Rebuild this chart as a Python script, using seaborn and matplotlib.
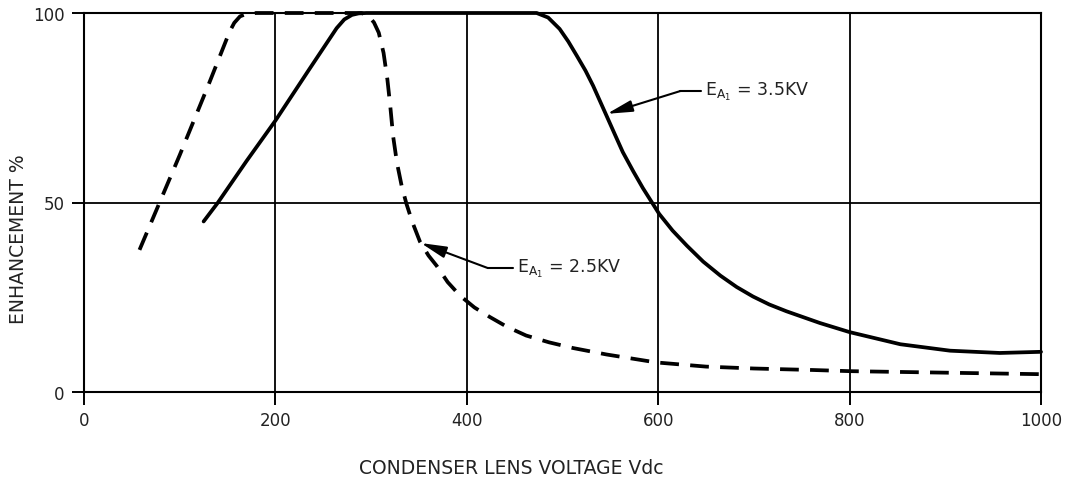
import matplotlib
matplotlib.use("Agg")
import matplotlib.pyplot as plt
import seaborn as sns
import pandas as pd

# ---- data ----
x_25kv = [58, 79, 100, 130, 152, 157, 163, 170, 180, 200, 250, 290, 297, 303, 308, 313,
          317, 320, 323, 327, 332, 337, 343, 351, 360, 368.5, 380, 393, 408, 424, 442,
          462, 486, 511, 546, 598, 650, 700, 762, 800, 900, 1000]
y_25kv = [37.5, 50, 62.5, 81, 95, 97.4, 99.1, 99.8, 100, 100, 100, 100, 99.3, 97.5, 94.8,
          89.5, 82.5, 75.5, 67.5, 60.5, 54.3, 49.6, 44.9, 39.7, 36.0, 33.3, 29.0, 25.4,
          22.3, 19.8, 17.2, 14.9, 13.1, 11.6, 9.9, 7.8, 6.7, 6.2, 5.8, 5.5, 5.1, 4.7]

x_35kv = [125, 140, 170, 200, 235, 264, 272, 280, 287, 295, 350, 420, 473, 485, 497, 506,
          515, 524, 532, 546, 555, 563, 574, 584, 601, 615, 630, 647, 665, 682, 699, 716,
          734, 769, 800, 853, 905, 957, 1000]
y_35kv = [45, 50, 61, 71.6, 85, 96, 98.3, 99.5, 99.9, 100, 100, 100, 100, 98.8, 95.8,
          92.5, 88.7, 84.8, 80.8, 72.9, 67.8, 63.3, 58.2, 53.8, 47, 42.6, 38.6, 34.4,
          30.7, 27.7, 25.2, 23.1, 21.3, 18.2, 15.8, 12.6, 10.9, 10.3, 10.6]

x_ticks = [0, 200, 400, 600, 800, 1000]
y_ticks = [0, 50, 100]

label_35 = r"$\mathsf{E_{A_1}}$ = 3.5KV"
label_25 = r"$\mathsf{E_{A_1}}$ = 2.5KV"
# annotation anchors (arrow tip, knee, text start) in data units
ann_35 = dict(tip=(546.5, 73.4), knee=(623, 79.4), text=(647, 79.4))
ann_25 = dict(tip=(352, 39.3), knee=(422, 32.7), text=(450, 32.7))

df25 = pd.DataFrame({"x": x_25kv, "y": y_25kv})
df35 = pd.DataFrame({"x": x_35kv, "y": y_35kv})

sns.set_theme(style="ticks")
plt.rcParams["font.family"] = ["DejaVu Sans"]
plt.rcParams["mathtext.fontset"] = "dejavusans"

fig = plt.figure(figsize=(10.67, 4.85), dpi=100)
ax = fig.add_axes([84 / 1067, 1 - 393 / 485, (1041 - 84) / 1067, (393 - 14) / 485])

sns.lineplot(data=df35, x="x", y="y", ax=ax, color="black", linewidth=2.7,
             sort=False, clip_on=False)
sns.lineplot(data=df25, x="x", y="y", ax=ax, color="black", linewidth=2.7,
             sort=False, clip_on=False)
ax.lines[-1].set_dashes((5, 3))
for ln in ax.lines:
    ln.set_solid_joinstyle("round")
    ln.set_dash_joinstyle("round")

ax.set_xlim(0, 1000)
ax.set_ylim(0, 100)
ax.set_xticks(x_ticks)
ax.set_yticks(y_ticks)
ax.set_xticklabels([str(v) for v in x_ticks], fontsize=12)
ax.set_yticklabels([str(v) for v in y_ticks], fontsize=12)
ax.tick_params(direction="out", length=9, width=1.4, color="black",
               labelcolor="#222222", pad=5)
ax.grid(True, color="black", linewidth=1.3)
for s in ax.spines.values():
    s.set_color("black")
    s.set_linewidth(1.5)

ax.set_xlabel("CONDENSER LENS VOLTAGE Vdc", fontsize=13.5, color="#222222")
ax.set_ylabel("ENHANCEMENT %", fontsize=13.5, color="#222222")
ax.xaxis.set_label_coords(0.446, -0.174)
ax.yaxis.set_label_coords(-0.058, 0.405)

for ann, lab in ((ann_35, label_35), (ann_25, label_25)):
    ax.plot([ann["knee"][0], ann["text"][0] - 2], [ann["knee"][1], ann["text"][1]],
            color="black", linewidth=1.5)
    ax.annotate("", xy=ann["tip"], xytext=ann["knee"],
                arrowprops=dict(arrowstyle="-|>,head_length=1.1,head_width=0.25",
                                color="black", lw=1.5, shrinkA=0, shrinkB=0,
                                mutation_scale=14))
    ax.text(ann["text"][0] + 2, ann["text"][1], lab, fontsize=12.5, va="center",
            ha="left", color="#222222",
            bbox=dict(facecolor="white", edgecolor="none", pad=1))

fig.savefig("out.png", dpi=100)
